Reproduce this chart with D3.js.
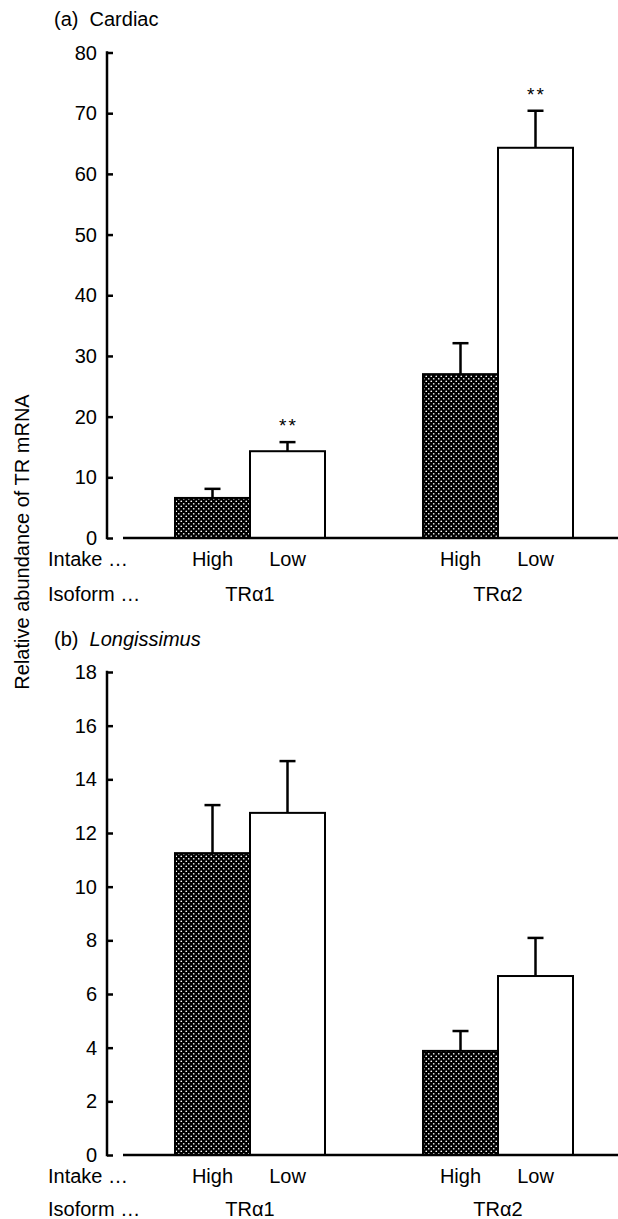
<!DOCTYPE html>
<html>
<head>
    <script src="https://d3js.org/d3.v7.min.js"></script>
    <style>
        body { margin: 0; background: #fff; }
        text { font-family: "Liberation Sans", Arial, sans-serif; fill: #000; }
    </style>
</head>
<body>
    <svg width="618" height="1219"></svg>
    <script>
        var isoforms = ["TR\u03b11", "TR\u03b12"];
        var intakes = ["High", "Low"];
        // means and upper error (mean + SE), per isoform, [High, Low]
        var cardiacMeans = [[6.6, 14.3], [27.0, 64.3]];
        var cardiacErr = [[8.1, 15.8], [32.1, 70.4]];
        var cardiacSig = [[false, true], [false, true]];
        var longMeans = [[11.25, 12.75], [3.88, 6.67]];
        var longErr = [[13.04, 14.68], [4.62, 8.09]];
        var longSig = [[false, false], [false, false]];
        var cardiacTicks = [0, 10, 20, 30, 40, 50, 60, 70, 80];
        var longTicks = [0, 2, 4, 6, 8, 10, 12, 14, 16, 18];

        var svg = d3.select("svg");

        var defs = svg.append("defs");
        var pat = defs.append("pattern")
            .attr("id", "dots")
            .attr("patternUnits", "userSpaceOnUse")
            .attr("width", 5).attr("height", 5);
        pat.append("rect").attr("width", 5).attr("height", 5).attr("fill", "#000");
        pat.append("circle").attr("cx", 1.25).attr("cy", 1.25).attr("r", 0.85).attr("fill", "#fff");
        pat.append("circle").attr("cx", 3.75).attr("cy", 3.75).attr("r", 0.85).attr("fill", "#fff");

        var x = d3.scalePoint().domain(isoforms).range([250, 498]);
        var barW = 75;
        var fs = "20px";

        function panel(opts) {
            var y = d3.scaleLinear().domain([0, opts.max]).range([opts.y0, opts.y1]);
            var g = svg.append("g");

            g.append("text").attr("x", 54).attr("y", opts.titleY)
                .style("font-size", fs)
                .html(opts.title);

            // y axis
            var axis = d3.axisRight(y).tickValues(opts.ticks).tickSize(6).tickFormat("");
            var ag = g.append("g").attr("transform", "translate(107,0)").call(axis);
            ag.select(".domain").remove();
            ag.selectAll(".tick line").attr("stroke", "#000").attr("stroke-width", 2.5);
            g.append("line").attr("x1", 107).attr("x2", 107)
                .attr("y1", y(opts.max) - 1.25).attr("y2", y(0) + 1.25)
                .attr("stroke", "#000").attr("stroke-width", 2.5);
            g.selectAll(".tl").data(opts.ticks).enter().append("text")
                .attr("x", 97).attr("y", function(d) { return y(d) + 7; })
                .attr("text-anchor", "end")
                .style("font-size", fs)
                .text(function(d) { return d; });

            // bars
            opts.means.forEach(function(pair, gi) {
                pair.forEach(function(v, bi) {
                    var bx = x(isoforms[gi]) + (bi === 0 ? -barW : 0);
                    var cx = bx + barW / 2;
                    g.append("line").attr("x1", cx).attr("x2", cx)
                        .attr("y1", y(v)).attr("y2", y(opts.err[gi][bi]))
                        .attr("stroke", "#000").attr("stroke-width", 2.5);
                    g.append("line").attr("x1", cx - 8).attr("x2", cx + 8)
                        .attr("y1", y(opts.err[gi][bi])).attr("y2", y(opts.err[gi][bi]))
                        .attr("stroke", "#000").attr("stroke-width", 2.5);
                    g.append("rect")
                        .attr("x", bx).attr("y", y(v))
                        .attr("width", barW).attr("height", y(0) - y(v))
                        .attr("fill", bi === 0 ? "url(#dots)" : "#fff")
                        .attr("stroke", "#000").attr("stroke-width", 2);
                    if (opts.sig[gi][bi]) {
                        g.append("text").attr("x", cx + 1).attr("y", y(opts.err[gi][bi]) - 10)
                            .attr("text-anchor", "middle")
                            .style("font-size", "19px")
                            .style("letter-spacing", "2px")
                            .text("**");
                    }
                    g.append("text").attr("x", cx).attr("y", opts.y0 + 28)
                        .attr("text-anchor", "middle")
                        .style("font-size", fs)
                        .text(intakes[bi]);
                });
                g.append("text").attr("x", x(isoforms[gi])).attr("y", opts.y0 + opts.isoDy)
                    .attr("text-anchor", "middle")
                    .style("font-size", fs)
                    .text(isoforms[gi]);
            });

            // baseline
            g.append("line").attr("x1", 123).attr("x2", 618)
                .attr("y1", y(0)).attr("y2", y(0))
                .attr("stroke", "#000").attr("stroke-width", 2.5);

            g.append("text").attr("x", 48).attr("y", opts.y0 + 28)
                .style("font-size", fs).text("Intake \u2026");
            g.append("text").attr("x", 48).attr("y", opts.y0 + opts.isoDy)
                .style("font-size", fs).text("Isoform \u2026");
        }

        panel({ title: "(a)&#160;&#160;Cardiac", titleY: 26, max: 80, y0: 538, y1: 52.5, isoDy: 63,
                ticks: cardiacTicks, means: cardiacMeans, err: cardiacErr, sig: cardiacSig });
        panel({ title: "(b)&#160;&#160;<tspan font-style='italic'>Longissimus</tspan>", titleY: 646, max: 18, y0: 1155, y1: 672, isoDy: 61,
                ticks: longTicks, means: longMeans, err: longErr, sig: longSig });

        svg.append("text")
            .attr("transform", "translate(29,542) rotate(-90)")
            .attr("text-anchor", "middle")
            .style("font-size", fs)
            .text("Relative abundance of TR mRNA");
    </script>
</body>
</html>
